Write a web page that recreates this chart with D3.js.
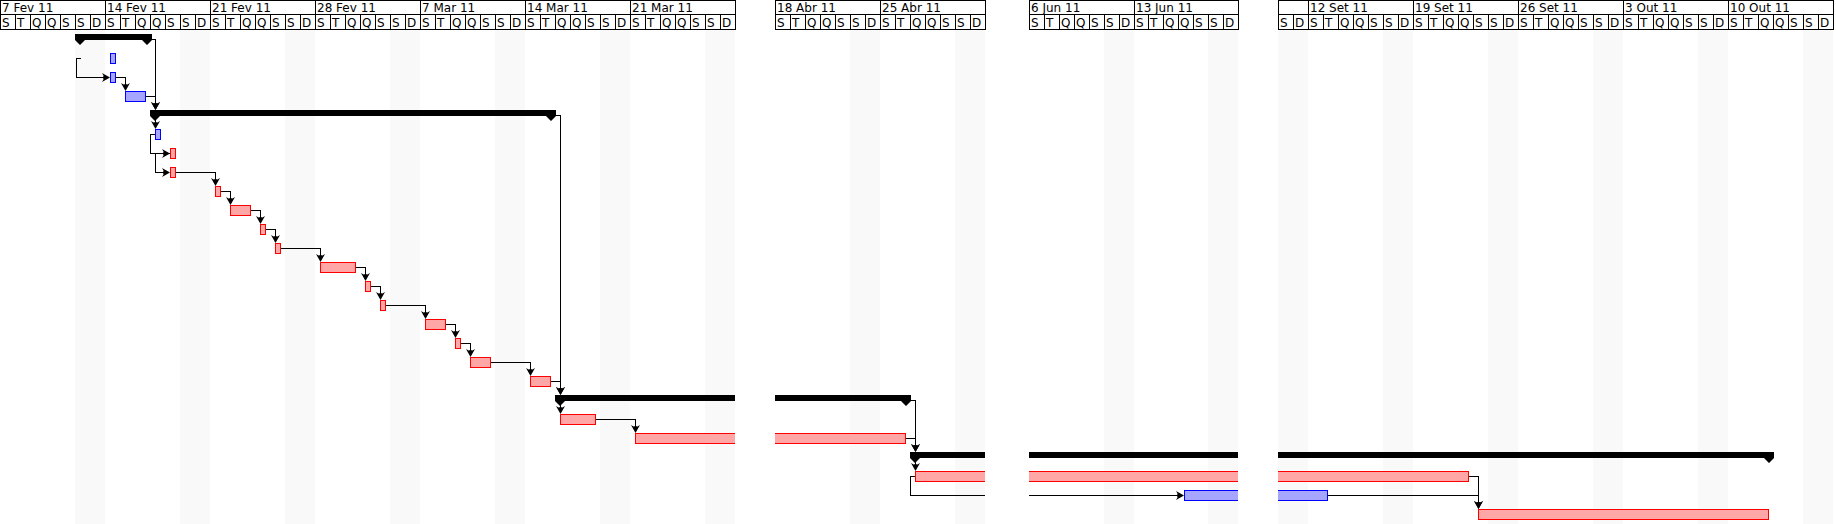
<!DOCTYPE html>
<html><head><meta charset="utf-8">
<script src="https://cdn.jsdelivr.net/npm/d3@7"></script>
<style>
html,body{margin:0;padding:0;background:#fff;}
svg{display:block;}
text{font-family:"DejaVu Sans";font-size:12px;fill:#000;}
</style></head><body>
<svg id="chart" width="1836" height="524"></svg>
<script>
// ---------------- data ----------------
const segmentStarts = ["2011-02-07 00:00","2011-04-18 00:00","2011-06-06 00:00","2011-09-10 00:00"];
const segmentEnds   = ["2011-03-28 00:00","2011-05-02 00:00","2011-06-20 00:00","2011-10-17 00:00"];
const monthNames = ["Jan","Fev","Mar","Abr","Mai","Jun","Jul","Ago","Set","Out","Nov","Dez"];
const dayLetters = ["D","S","T","Q","Q","S","S"]; // by weekday, 0 = domingo

const taskTypes = ["summary","blue","blue","blue","summary","blue","red","red","red","red",
                   "red","red","red","red","red","red","red","red","red","summary",
                   "red","red","summary","red","blue","red"];
const taskStarts = ["2011-02-12 00:00","2011-02-14 08:30","2011-02-14 08:30","2011-02-15 08:30","2011-02-17 00:00",
                    "2011-02-17 08:30","2011-02-18 08:30","2011-02-18 08:30","2011-02-21 08:30","2011-02-22 08:30",
                    "2011-02-24 08:30","2011-02-25 08:30","2011-02-28 08:30","2011-03-03 08:30","2011-03-04 08:30",
                    "2011-03-07 08:30","2011-03-09 08:30","2011-03-10 08:30","2011-03-14 08:30","2011-03-16 00:00",
                    "2011-03-16 08:30","2011-03-21 08:30","2011-04-27 00:00","2011-04-27 08:30","2011-06-16 08:30",
                    "2011-09-23 08:30"];
const taskEnds   = ["2011-02-17 03:12","2011-02-14 17:00","2011-02-14 17:00","2011-02-16 17:00","2011-03-16 01:36",
                    "2011-02-17 17:00","2011-02-18 17:00","2011-02-18 17:00","2011-02-21 17:00","2011-02-23 17:00",
                    "2011-02-24 17:00","2011-02-25 17:00","2011-03-02 17:00","2011-03-03 17:00","2011-03-04 17:00",
                    "2011-03-08 17:00","2011-03-09 17:00","2011-03-11 17:00","2011-03-15 17:00","2011-04-27 01:36",
                    "2011-03-18 17:00","2011-04-26 17:00","2011-10-13 01:36","2011-09-22 17:00","2011-09-13 08:30",
                    "2011-10-12 17:00"];

// dependencies: FS = fim->início, PC = resumo->primeira subtarefa, SS = início->início
const linkFrom  = [0,2,3,4, 7,8,9,10,11,12,13,14,15,16,17,18,19,20,21,23,24, 4,19,22, 1,5,6,23];
const linkTo    = [4,3,4,19,8,9,10,11,12,13,14,15,16,17,18,19,22,21,22,25,25, 5,20,23, 2,6,7,24];
const linkTypes = ["FS","FS","FS","FS","FS","FS","FS","FS","FS","FS","FS","FS","FS","FS","FS","FS","FS","FS","FS","FS","FS",
                   "PC","PC","PC","SS","SS","SS","SS"];
const linkAnchor = [null,null,null,null,null,null,null,null,null,null,null,null,null,null,null,null,null,null,null,null,null,
                    null,null,null,"2011-02-12 09:36",null,null,null];
const linkVia    = [null,null,null,null,null,null,null,null,null,null,null,null,null,null,null,null,null,null,null,null,null,
                    null,null,null,null,null,"2011-02-17 08:30",null];

// ---------------- layout ----------------
const W = 1836, H = 524;
const segStartX = [0, 775, 1029, 1278];
const segEndX   = [735, 985, 1238, 1833];
const HEADER_H = 30;
const parse = d3.utcParse("%Y-%m-%d %H:%M");

const segs = segmentStarts.map((s, i) => ({ s: parse(s), e: parse(segmentEnds[i]), x0: segStartX[i], x1: segEndX[i] }));
const x = d3.scaleUtc()
  .domain(segs.flatMap(g => [g.s, g.e]))
  .range(segs.flatMap(g => [g.x0, g.x1]));
const y = d3.scaleLinear().domain([0, 1]).range([34, 53]); // row top

const tasks = taskTypes.map((t, i) => ({ row: i, type: t, s: parse(taskStarts[i]), e: parse(taskEnds[i]) }));

const svg = d3.select("#chart");
svg.append("rect").attr("width", W).attr("height", H).attr("fill", "#fff");

const defs = svg.append("defs");
const clip = defs.append("clipPath").attr("id", "segclip");
segs.forEach(g => clip.append("rect").attr("x", g.x0).attr("y", 0).attr("width", g.x1 - g.x0).attr("height", H));

const body = svg.append("g").attr("clip-path", "url(#segclip)");

// weekend shading
segs.forEach(g => {
  d3.utcDay.range(g.s, g.e).filter(d => d.getUTCDay() === 0 || d.getUTCDay() === 6).forEach(d => {
    body.append("rect")
      .attr("x", Math.round(x(d))).attr("y", HEADER_H)
      .attr("width", Math.round(x(d3.utcDay.offset(d, 1))) - Math.round(x(d)))
      .attr("height", H - HEADER_H)
      .attr("fill", "#f9f9f9").attr("shape-rendering", "crispEdges");
  });
});

// links
const linkG = body.append("g").attr("fill", "none").attr("stroke", "#000").attr("stroke-width", 1).attr("shape-rendering", "crispEdges");
const arrowG = body.append("g").attr("fill", "#000");
const downArrow = "M0,0 L-4.5,-8 L-2,-6.5 L0,-7 L2,-6.5 L4.5,-8 Z";
const rightArrow = "M0,0 L-8,-4.5 L-6.5,-2 L-7,0 L-6.5,2 L-8,4.5 Z";
const R = v => Math.round(v);

linkFrom.forEach((f, i) => {
  const a = tasks[f], b = tasks[linkTo[i]], type = linkTypes[i];
  let d, tip, dir;
  if (type === "FS") {
    const fy = y(a.row) + 5.5;
    const xs = R(x(a.e));
    const xt = b.type === "summary" ? R(x(b.s)) + 5.5 : R(x(b.s)) + 0.5;
    d = `M${xs},${fy}H${xt}V${y(b.row) - 2}`;
    tip = [xt, y(b.row)]; dir = "down";
  } else if (type === "PC") {
    const xt = R(x(b.s)) + 0.5;
    d = `M${xt},${y(a.row) + 6}V${y(b.row) - 2}`;
    tip = [xt, y(b.row)]; dir = "down";
  } else {
    const anchor = linkAnchor[i] ? parse(linkAnchor[i]) : a.s;
    const ax = R(x(anchor));
    const xv = linkVia[i] ? R(x(parse(linkVia[i]))) + 0.5 : ax - 5 + 0.5;
    const fy = y(a.row) + 5.5, ty = y(b.row) + 5.5;
    const tx = R(x(b.s));
    d = `M${ax},${fy}H${xv}V${ty}H${tx - 2}`;
    tip = [tx, ty]; dir = "right";
  }
  linkG.append("path").attr("d", d);
  arrowG.append("path").attr("d", dir === "down" ? downArrow : rightArrow)
    .attr("transform", `translate(${tip[0]},${tip[1]})`);
});

// bars
const barG = body.append("g").attr("shape-rendering", "crispEdges");
const fills = { red: "#ffa6a6", blue: "#a6a6ff" };
const strokes = { red: "#ff0000", blue: "#0000ff" };
tasks.forEach(t => {
  const x0 = R(x(t.s)), x1 = R(x(t.e));
  if (t.type === "summary") {
    barG.append("rect").attr("x", x0).attr("y", y(t.row)).attr("width", x1 - x0).attr("height", 6).attr("fill", "#000");
    const top = y(t.row) + 6;
    body.append("path").attr("fill", "#000")
      .attr("d", `M${x0},${top}H${x0 + 10}L${x0 + 5},${top + 5}Z M${x1 - 10},${top}H${x1}L${x1 - 5},${top + 5}Z`);
  } else {
    barG.append("rect").attr("x", x0 + 0.5).attr("y", y(t.row) + 0.5)
      .attr("width", Math.max(1, x1 - x0 - 1)).attr("height", 10)
      .attr("fill", fills[t.type]).attr("stroke", strokes[t.type]).attr("stroke-width", 1);
  }
});

// header (time scale)
const head = svg.append("g");
const hl = head.append("g").attr("stroke", "#000").attr("stroke-width", 1).attr("shape-rendering", "crispEdges");
const yFmt = d3.utcFormat("%y");
segs.forEach(g => {
  [0.5, 14.5, 29.5].forEach(yy => hl.append("line").attr("x1", g.x0).attr("x2", g.x1 + 1).attr("y1", yy).attr("y2", yy));
  hl.append("line").attr("x1", g.x0 + 0.5).attr("x2", g.x0 + 0.5).attr("y1", 0).attr("y2", 30);
  hl.append("line").attr("x1", g.x1 + 0.5).attr("x2", g.x1 + 0.5).attr("y1", 0).attr("y2", 30);
  d3.utcDay.range(g.s, g.e).forEach(d => {
    const dx = R(x(d));
    hl.append("line").attr("x1", dx + 0.5).attr("x2", dx + 0.5).attr("y1", 14.5).attr("y2", 30);
    head.append("text").attr("x", dx + 2).attr("y", 27).text(dayLetters[d.getUTCDay()]);
  });
  d3.utcMonday.range(g.s, g.e).forEach(d => {
    const dx = R(x(d));
    hl.append("line").attr("x1", dx + 0.5).attr("x2", dx + 0.5).attr("y1", 0).attr("y2", 14.5);
    head.append("text").attr("x", dx + 2).attr("y", 12)
      .text(`${d.getUTCDate()} ${monthNames[d.getUTCMonth()]} ${yFmt(d)}`);
  });
});
</script>
</body></html>
